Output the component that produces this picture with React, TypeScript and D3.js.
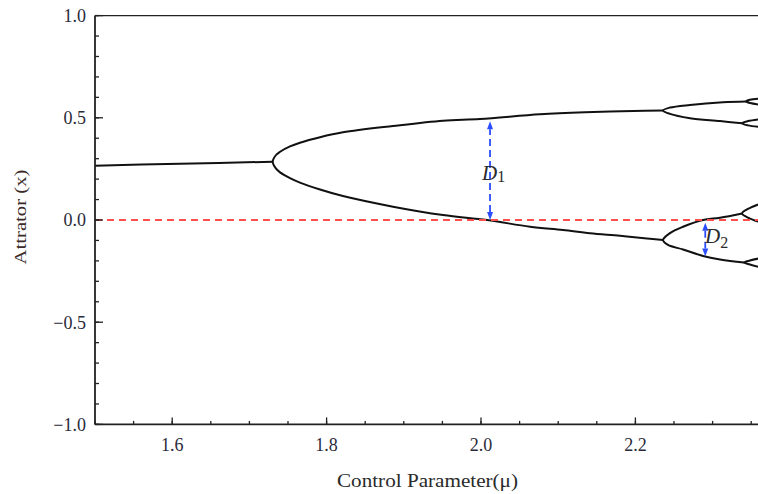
import React from 'react';
import * as d3 from 'd3';

const W = 758;
const H = 494;

// ---- data (mu, x) ----
const mainBranch: [number, number][] = [[1.5, 0.265], [1.56, 0.272], [1.66, 0.279], [1.7302, 0.285]];

const p2Tip: [number, number] = [1.7302, 0.285];
const p2Upper: [number, number][] = [
  [1.7345, 0.318], [1.7397, 0.334], [1.7526, 0.36], [1.7655, 0.378], [1.7915, 0.405],
  [1.8212, 0.429], [1.886, 0.46], [1.9508, 0.486], [1.9987, 0.494], [2.0764, 0.517],
  [2.1347, 0.527], [2.2124, 0.535], [2.2358, 0.536],
];
const p2Lower: [number, number][] = [
  [1.7345, 0.251], [1.7397, 0.233], [1.7526, 0.205], [1.7655, 0.183], [1.7915, 0.149],
  [1.8212, 0.117], [1.886, 0.065], [1.9508, 0.024], [2.0078, 0.0], [2.0635, -0.033],
  [2.1062, -0.049], [2.1412, -0.065], [2.1801, -0.077], [2.215, -0.09], [2.2358, -0.098],
];

const p4aTip: [number, number] = [2.2358, 0.536];
const p4aUpper: [number, number][] = [[2.2448, 0.55], [2.2707, 0.563], [2.3135, 0.576], [2.3433, 0.58]];
const p4aLower: [number, number][] = [[2.2448, 0.519], [2.2707, 0.498], [2.3096, 0.484], [2.3381, 0.473]];

const p4bTip: [number, number] = [2.2358, -0.098];
const p4bUpper: [number, number][] = [[2.2448, -0.064], [2.2617, -0.033], [2.2876, 0.0], [2.3096, 0.011], [2.3381, 0.032]];
const p4bLower: [number, number][] = [[2.2422, -0.122], [2.2617, -0.144], [2.2876, -0.176], [2.3096, -0.193], [2.3407, -0.208]];

const p8aTip: [number, number] = [2.3433, 0.58];
const p8aUpper: [number, number][] = [[2.3484, 0.588], [2.3627, 0.594]];
const p8aLower: [number, number][] = [[2.3484, 0.572], [2.3627, 0.564]];
const p8bTip: [number, number] = [2.3381, 0.473];
const p8bUpper: [number, number][] = [[2.3458, 0.484], [2.3627, 0.494]];
const p8bLower: [number, number][] = [[2.3458, 0.463], [2.3627, 0.455]];
const p8cTip: [number, number] = [2.3381, 0.032];
const p8cUpper: [number, number][] = [[2.3458, 0.054], [2.3627, 0.081]];
const p8cLower: [number, number][] = [[2.3458, 0.012], [2.3627, -0.012]];
const p8dTip: [number, number] = [2.3407, -0.208];
const p8dUpper: [number, number][] = [[2.3484, -0.198], [2.3627, -0.186]];
const p8dLower: [number, number][] = [[2.3484, -0.218], [2.3627, -0.232]];

// annotations: [mu, from, to]
const d1Arrow: [number, number, number] = [2.0117, 0.0, 0.483];
const d2Arrow: [number, number, number] = [2.2905, -0.013, -0.178];

const xMajor = [1.6, 1.8, 2.0, 2.2, 2.4];
const xMinor = d3.range(31).map((i) => 1.5 + i * 0.05);
const yMajor = [-1, -0.5, 0, 0.5, 1];
const yMinor = d3.range(21).map((i) => -1 + i * 0.1);

const xTickLabels = ['1.6', '1.8', '2.0', '2.2', ''];
const yTickLabels = ['\u22121.0', '\u22120.5', '0.0', '0.5', '1.0'];

const L = 95;
const T = 15.6;
const B = 424.4;

export default function App() {
  const x = d3.scaleLinear().domain([1.5, 2.4]).range([L, L + 0.9 * 772]);
  const y = d3.scaleLinear().domain([-1, 1]).range([B, T]);

  const smooth = d3
    .line<[number, number]>()
    .x((d) => x(d[0]))
    .y((d) => y(d[1]))
    .curve(d3.curveCatmullRom.alpha(0.5));
  const straight = d3
    .line<[number, number]>()
    .x((d) => x(d[0]))
    .y((d) => y(d[1]));

  const loop = (tip: [number, number], up: [number, number][], lo: [number, number][]) =>
    smooth([...up.slice().reverse(), tip, ...lo]) || '';

  const loops = [
    loop(p2Tip, p2Upper, p2Lower),
    loop(p4aTip, p4aUpper, p4aLower),
    loop(p4bTip, p4bUpper, p4bLower),
    loop(p8aTip, p8aUpper, p8aLower),
    loop(p8bTip, p8bUpper, p8bLower),
    loop(p8cTip, p8cUpper, p8cLower),
    loop(p8dTip, p8dUpper, p8dLower),
  ];

  const font = '"Liberation Serif", "Times New Roman", serif';
  const blue = '#2b4cff';

  const arrow = (a: [number, number, number], key: string) => {
    const ax = x(a[0]);
    const y0 = y(a[1]);
    const y1 = y(a[2]);
    const dir = y1 < y0 ? -1 : 1; // direction from start to end
    const head = 8;
    const hw = 3;
    return (
      <g key={key}>
        <line
          x1={ax}
          x2={ax}
          y1={y0 + dir * head}
          y2={y1 - dir * head}
          stroke={blue}
          strokeWidth={1.8}
          strokeDasharray="7,4"
        />
        <path d={`M${ax},${y1} L${ax - hw},${y1 - dir * head} L${ax + hw},${y1 - dir * head} Z`} fill={blue} />
        <path d={`M${ax},${y0} L${ax - hw},${y0 + dir * head} L${ax + hw},${y0 + dir * head} Z`} fill={blue} />
      </g>
    );
  };

  return (
    <svg
      width={W}
      height={H}
      style={{ position: 'absolute', left: 0, top: 0, background: '#fff' }}
      fontFamily={font}
    >
      <defs>
        <clipPath id="plot">
          <rect x={L} y={T - 1} width={W - L} height={B - T + 2} />
        </clipPath>
      </defs>

      <g clipPath="url(#plot)">
        <path d={straight(mainBranch) || ''} fill="none" stroke="#111" strokeWidth={2} />
        {loops.map((d, i) => (
          <path key={i} d={d} fill="none" stroke="#111" strokeWidth={2} />
        ))}
        <line x1={L} x2={W} y1={y(0)} y2={y(0)} stroke="#ff4f4f" strokeWidth={2} strokeDasharray="7,5" />
        {arrow(d1Arrow, 'd1')}
        {arrow(d2Arrow, 'd2')}
      </g>

      {/* frame */}
      <line x1={L} x2={L} y1={T} y2={B} stroke="#222" strokeWidth={1.8} />
      <line x1={L} x2={W + 5} y1={B} y2={B} stroke="#222" strokeWidth={1.8} />
      <line x1={L} x2={W + 5} y1={T} y2={T} stroke="#222" strokeWidth={1.4} />

      {/* x ticks */}
      {xMinor.map((v, i) => (
        <line key={'xm' + i} x1={x(v)} x2={x(v)} y1={B} y2={B - 3.5} stroke="#222" strokeWidth={1.3} />
      ))}
      {xMajor.map((v, i) => (
        <g key={'xM' + i}>
          <line x1={x(v)} x2={x(v)} y1={B} y2={B - 7} stroke="#222" strokeWidth={1.3} />
          {xTickLabels[i] ? (
            <text x={x(v)} y={451} textAnchor="middle" fontSize={18} fill="#2a2a3a">
              {xTickLabels[i]}
            </text>
          ) : null}
        </g>
      ))}

      {/* y ticks */}
      {yMinor.map((v, i) => (
        <line key={'ym' + i} x1={L} x2={L + 4} y1={y(v)} y2={y(v)} stroke="#222" strokeWidth={1.3} />
      ))}
      {yMajor.map((v, i) => (
        <g key={'yM' + i}>
          <line x1={L} x2={L + 8} y1={y(v)} y2={y(v)} stroke="#222" strokeWidth={1.3} />
          <text x={86} y={y(v)} dy="0.35em" textAnchor="end" fontSize={18} fill="#2a2a3a">
            {yTickLabels[i]}
          </text>
        </g>
      ))}

      {/* annotation labels */}
      <text x={482} y={180} fontSize={21} fill="#2a2a2a">
        <tspan fontStyle="italic">D</tspan>
        <tspan fontSize={16} dy={2}>1</tspan>
      </text>
      <text x={705} y={243} fontSize={21} fill="#2a2a2a">
        <tspan fontStyle="italic">D</tspan>
        <tspan fontSize={16} dy={5}>2</tspan>
      </text>

      {/* axis titles */}
      <text x={337} y={487} fontSize={18} fill="#2a2a2a" textLength={181} lengthAdjust="spacingAndGlyphs">
        Control Parameter(μ)
      </text>
      <text
        transform="translate(26,217) rotate(-90)"
        textAnchor="middle"
        fontSize={17}
        fill="#3a2a2a"
        textLength={95}
        lengthAdjust="spacingAndGlyphs"
      >
        Attrator (x)
      </text>
    </svg>
  );
}
